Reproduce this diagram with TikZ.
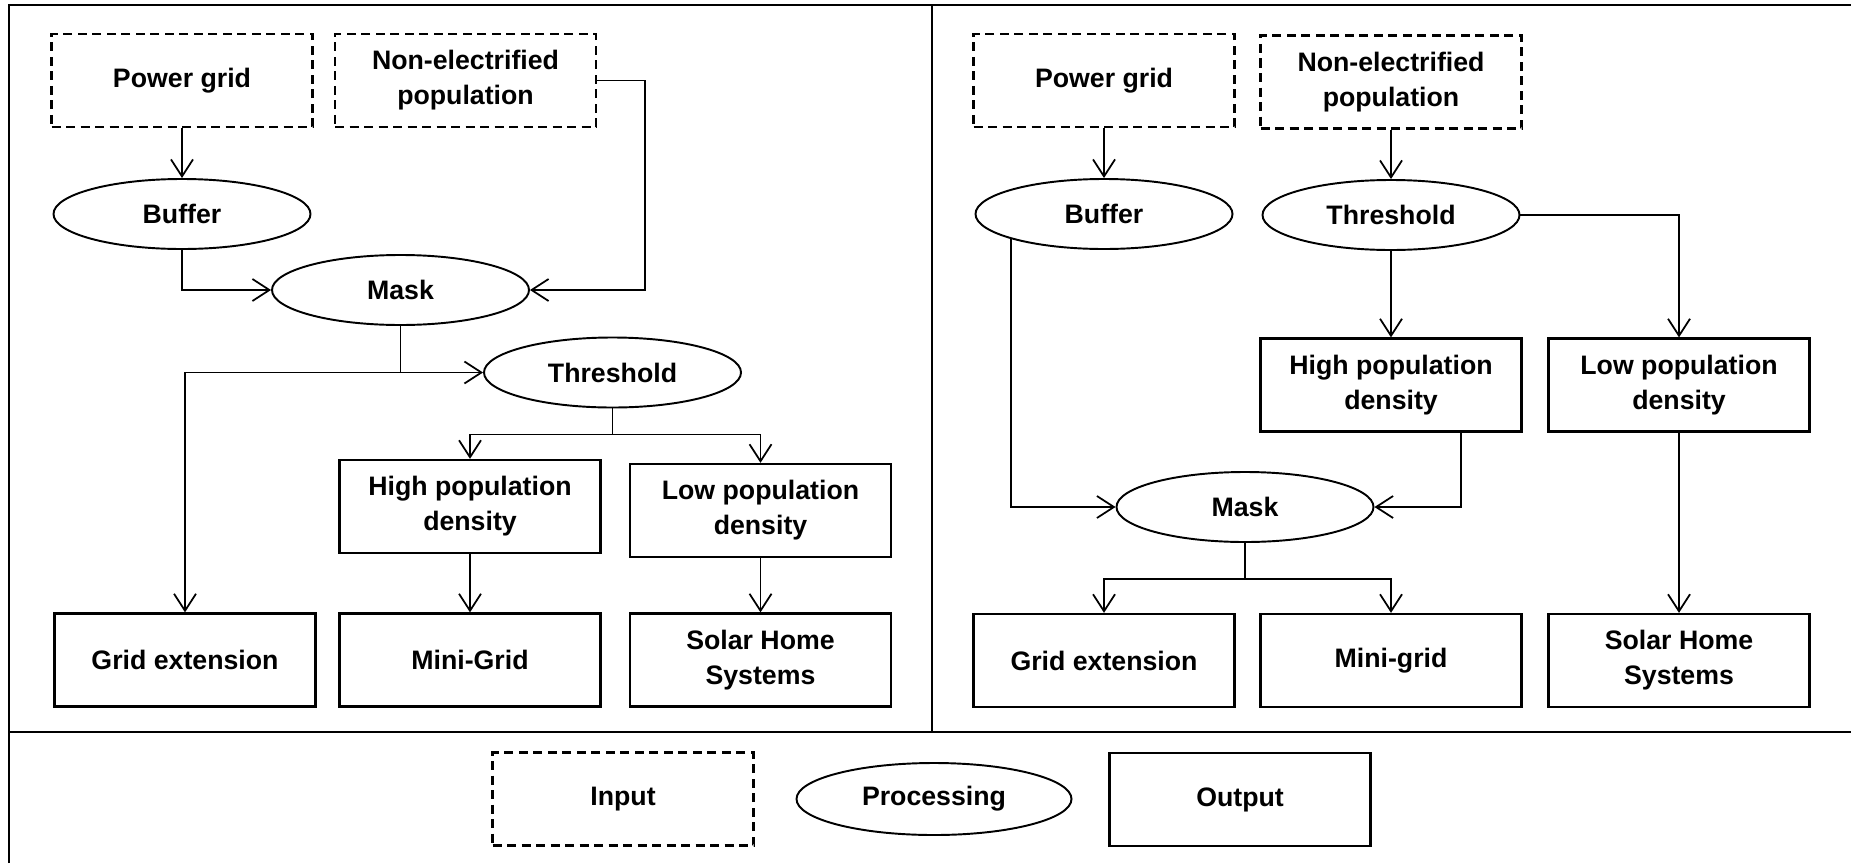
\documentclass[tikz,border=0pt]{standalone}
\usepackage{fontspec}
\setmainfont{Liberation Sans}
\usepackage{tikz}
\usetikzlibrary{arrows.meta, positioning, shapes.geometric, calc}

\begin{document}
\begin{tikzpicture}[
    every node/.style={font=\bfseries\fontsize{7.6}{10}\selectfont, align=center},
    inbox/.style={draw, line width=0.7pt, dash pattern=on 0.9mm off 0.55mm, minimum width=2.61cm, minimum height=0.93cm},
    outbox/.style={draw, line width=0.65pt, minimum width=2.61cm, minimum height=0.93cm},
    procell/.style={draw, ellipse, line width=0.55pt, inner sep=0pt, minimum width=2.57cm, minimum height=0.70cm},
    link/.style={line width=0.5pt, -{Straight Barb[length=1.7mm,width=2.2mm]}}
]
    \useasboundingbox (0,0) rectangle (18.51,-8.63);

    % Frame
    \draw[line width=0.8pt] (0.09,-8.63) -- (0.09,-0.05) -- (18.51,-0.05);
    \draw[line width=0.8pt] (0.09,-7.32) -- (18.51,-7.32);
    \draw[line width=0.8pt] (9.32,-0.05) -- (9.32,-7.32);

    % Left panel nodes
    \node (grid_l) at (1.82,-0.805) [inbox] {Power grid};
    \node (pop_l) at (4.655,-0.805) [inbox] {Non-electrified\\population};
    \node (buffer_l) at (1.82,-2.14) [procell] {Buffer};
    \node (mask_l) at (4.005,-2.90) [procell] {Mask};
    \node (thr_l) at (6.125,-3.725) [procell] {Threshold};
    \node (high_l) at (4.70,-5.065) [outbox] {High population\\density};
    \node (low_l) at (7.605,-5.105) [outbox] {Low population\\density};
    \node (ext_l) at (1.85,-6.60) [outbox] {Grid extension};
    \node (mini_l) at (4.70,-6.60) [outbox] {Mini-Grid};
    \node (shs_l) at (7.605,-6.60) [outbox] {Solar Home\\Systems};

    % Right panel nodes
    \node (grid_r) at (11.04,-0.805) [inbox] {Power grid};
    \node (pop_r) at (13.91,-0.82) [inbox] {Non-electrified\\population};
    \node (buffer_r) at (11.04,-2.14) [procell] {Buffer};
    \node (thr_r) at (13.91,-2.15) [procell] {Threshold};
    \node (high_r) at (13.91,-3.85) [outbox] {High population\\density};
    \node (low_r) at (16.79,-3.85) [outbox] {Low population\\density};
    \node (mask_r) at (12.45,-5.07) [procell] {Mask};
    \node (ext_r) at (11.04,-6.605) [outbox] {Grid extension};
    \node (mini_r) at (13.91,-6.605) [outbox] {Mini-grid};
    \node (shs_r) at (16.79,-6.605) [outbox] {Solar Home\\Systems};

    % Legend
    \node (in_leg) at (6.23,-7.99) [inbox] {Input};
    \node (proc_leg) at (9.34,-7.99) [procell, minimum width=2.75cm, minimum height=0.72cm] {Processing};
    \node (out_leg) at (12.40,-7.995) [outbox] {Output};

    % Left panel edges
    \draw[link] (grid_l) -- (buffer_l);
    \draw[link] (buffer_l.south) |- (mask_l.west);
    \draw[link] (pop_l.east) -- ++(0.48,0) |- (mask_l.east);
    \draw[link] (mask_l.south) |- (thr_l.west);
    \coordinate (split_l) at (mask_l.south |- thr_l.west);
    \draw[link] (split_l) -| (ext_l.north);
    \draw[link] (thr_l.south) -- ++(0,-0.26) -| (high_l.north);
    \draw[link] (thr_l.south) -- ++(0,-0.26) -| (low_l.north);
    \draw[link] (high_l) -- (mini_l);
    \draw[link] (low_l) -- (shs_l);

    % Right panel edges
    \draw[link] (grid_r) -- (buffer_r);
    \draw[link] (pop_r) -- (thr_r);
    \draw[link] (thr_r) -- (high_r);
    \draw[link] (thr_r.east) -| (low_r.north);
    \draw[link] (buffer_r.195) |- (mask_r.west);
    \draw[link] ([xshift=0.7cm]high_r.south) |- (mask_r.east);
    \draw[link] (low_r) -- (shs_r);
    \draw[link] (mask_r.south) -- ++(0,-0.36) -| (ext_r.north);
    \draw[link] (mask_r.south) -- ++(0,-0.36) -| (mini_r.north);

\end{tikzpicture}
\end{document}
